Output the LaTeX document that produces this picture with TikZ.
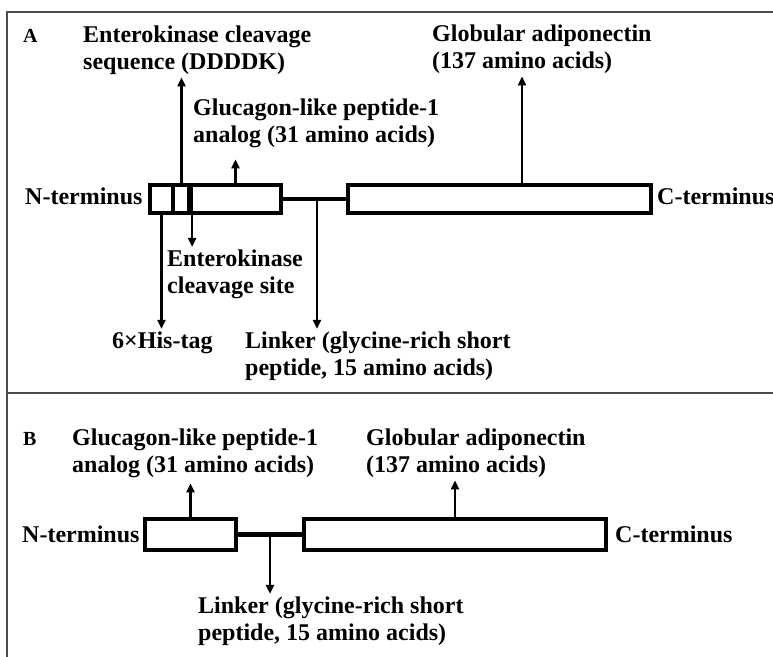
\documentclass[tikz,border=0pt]{standalone}
\usepackage{fontspec}
\setmainfont{Liberation Serif}
\usetikzlibrary{arrows.meta, calc}

\newcommand{\lbl}[1]{\begin{tabular}[t]{@{}l@{}}#1\end{tabular}}

\begin{document}
\begin{tikzpicture}[x = 1pt, y = -1pt,
                        seg/.style = {draw, line width = 4.2pt, inner sep = 0pt, minimum height = 28pt},
                        pin/.style = {-{Triangle[length = 9pt, width = 8pt]}, line width = 2.2pt},
                        txt/.style = {inner sep = 0pt, anchor = base west, font = \fontsize{24}{27}\selectfont\bfseries}]
                        \useasboundingbox (0,0) rectangle (773,656);
                        \draw[line width = 1.5pt, black!70] (7,660) -- (7,12) -- (776,12) (7,393) -- (776,393);

                        % A
                        \node (his) [seg, minimum width = 23pt] at (161.5,199) {};
                        \node (ek) [seg, minimum width = 17pt] at (181.5,199) {};
                        \node (glp) [seg, minimum width = 91pt] at (235.5,199) {};
                        \node (adipo) [seg, minimum width = 303pt] at (499.5,199) {};
                        \draw[line width = 6pt] (190,185) -- (190,213);
                        \draw[line width = 4.2pt] (glp.east) -- (adipo.west);
                        \coordinate (lnkA) at (317,199);
                        \coordinate (gadpt) at (522,185);

                        \node (capA) [txt, font = \fontsize{20}{24}\selectfont\bfseries] at (23,42) {A};
                        \node (ekseq) [txt] at (83,42) {\lbl{Enterokinase cleavage\\sequence (DDDDK)}};
                        \node (glpA) [txt] at (193,115) {\lbl{Glucagon-like peptide-1\\analog (31 amino acids)}};
                        \node (gadA) [txt] at (432,41) {\lbl{Globular adiponectin\\(137 amino acids)}};
                        \node (ntA) [txt] at (25,204) {N-terminus};
                        \node (ctA) [txt] at (657,204) {C-terminus};
                        \node (eksite) [txt] at (167,266) {\lbl{Enterokinase\\cleavage site}};
                        \node (hisA) [txt] at (112,348) {\lbl{6×His-tag}};
                        \node (linkA) [txt] at (245,348) {\lbl{Linker (glycine-rich short\\peptide, 15 amino acids)}};

                        \draw[pin] (ek.north) -- (ek.north |- ekseq.south);
                        \draw[pin, shorten > = 9pt] (glp.north) -- (glp.north |- glpA.south);
                        \draw[pin] (gadpt |- adipo.north) -- (gadpt |- gadA.south);
                        \draw[pin] (his.south) -- (his.south |- hisA.north);
                        \draw[pin] (ek.south east) -- (ek.south east |- eksite.north);
                        \draw[pin] (lnkA) -- (lnkA |- linkA.north);

                        % B
                        \node (glpB) [seg, minimum width = 91pt, minimum height = 31pt] at (190.5,534.5) {};
                        \node (adipoB) [seg, minimum width = 302pt, minimum height = 31pt] at (455,534.5) {};
                        \draw[line width = 4.2pt] (glpB.east) -- (adipoB.west);
                        \coordinate (lnkB) at ($(glpB.east)!0.5!(adipoB.west)$);

                        \node (capB) [txt, font = \fontsize{20}{24}\selectfont\bfseries] at (23,445) {B};
                        \node (glpBt) [txt] at (72,445) {\lbl{Glucagon-like peptide-1\\analog (31 amino acids)}};
                        \node (gadB) [txt] at (366,445) {\lbl{Globular adiponectin\\(137 amino acids)}};
                        \node (ntB) [txt] at (22,542) {N-terminus};
                        \node (ctB) [txt] at (615,542) {C-terminus};
                        \node (linkB) [txt] at (198,613) {\lbl{Linker (glycine-rich short\\peptide, 15 amino acids)}};

                        \draw[pin, shorten > = 3pt] (glpB.north) -- (glpB.north |- glpBt.south);
                        \draw[pin] (adipoB.north) -- (adipoB.north |- gadB.south);
                        \draw[pin] (lnkB) -- (lnkB |- linkB.north);
                    \end{tikzpicture}
\end{document}
